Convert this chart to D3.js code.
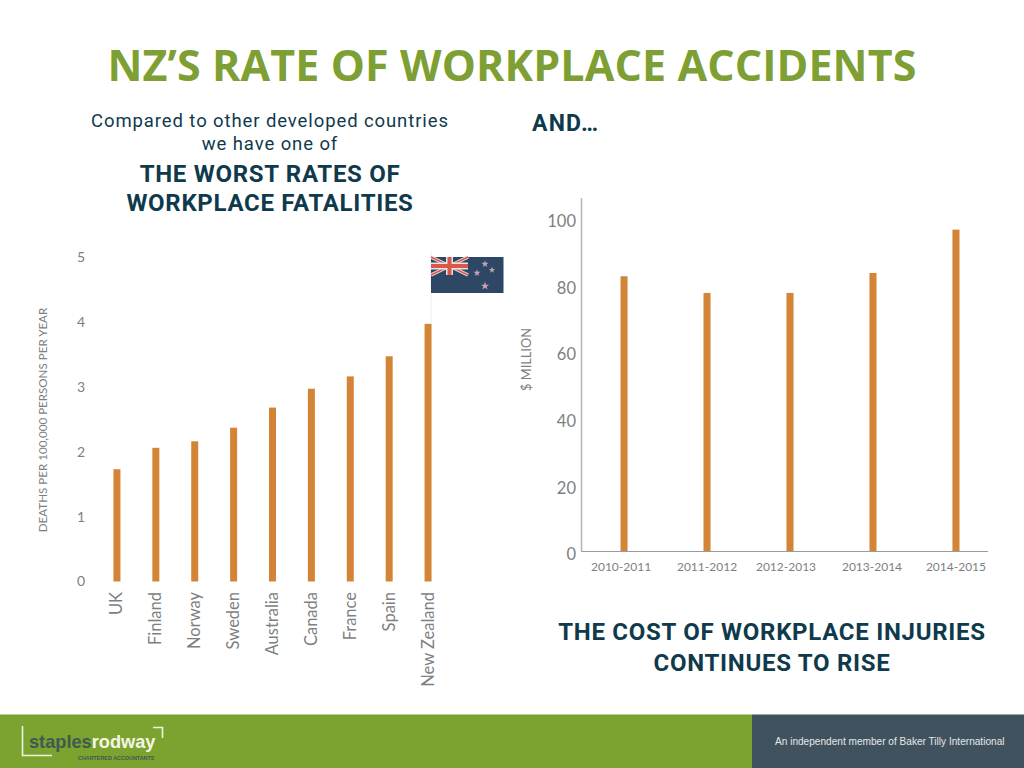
<!DOCTYPE html>
<html><head><meta charset="utf-8">
<script src="https://cdnjs.cloudflare.com/ajax/libs/d3/7.8.5/d3.min.js"></script>
<style>html,body{margin:0;padding:0;background:#fff}svg{display:block}</style>
</head><body><svg id="c" width="1024" height="768"></svg>
<script>
const countries = ["UK","Finland","Norway","Sweden","Australia","Canada","France","Spain","New Zealand"];
const deathRates = [1.73,2.06,2.16,2.37,2.68,2.97,3.16,3.47,3.97];
const deathTicks = [0,1,2,3,4,5];
const years = ["2010-2011","2011-2012","2012-2013","2013-2014","2014-2015"];
const costs = [82.5,77.5,77.5,83.5,96.5];
const costTicks = [0,20,40,60,80,100];

const ORANGE="#d48437", GREY="#7d7f81", NAVY="#0f3a4c", GREEN="#7d9f33";
const svg=d3.select("#c");
const text=(x,y,s,size,fill,weight,font,anchor)=>svg.append("text").attr("x",x).attr("y",y).text(s)
  .attr("font-size",size).attr("fill",fill).attr("font-weight",weight||400)
  .attr("font-family",font||"'Open Sans'").attr("text-anchor",anchor||"middle");
const block=(x,lines,size,weight,spacing)=>{
  const t=svg.append("text").attr("font-size",size).attr("fill",NAVY).attr("font-weight",weight)
    .attr("font-family","Roboto").attr("text-anchor","middle").attr("letter-spacing",spacing);
  lines.forEach(([y,s])=>t.append("tspan").attr("x",x).attr("y",y).text(s));
};

text(512,81,"NZ’S RATE OF WORKPLACE ACCIDENTS",43,GREEN,700).attr("letter-spacing",0.1);
block(270,[[127,"Compared to other developed countries"],[150,"we have one of"]],18.5,400,0.9);
block(270,[[182,"THE WORST RATES OF"],[211,"WORKPLACE FATALITIES"]],24,700,0.7);
text(532,131,"AND…",23,NAVY,700,"Roboto","start").attr("letter-spacing",1.2);
block(772,[[640,"THE COST OF WORKPLACE INJURIES"],[671,"CONTINUES TO RISE"]],24,700,0.72);

// left chart
const x1=d3.scaleBand().domain(countries).range([97.5,447.5]).paddingInner(0.82).paddingOuter(0.41);
const y1=d3.scaleLinear().domain([0,5]).range([581.5,257]);
const g1=svg.append("g");
g1.selectAll("rect").data(deathRates).join("rect")
  .attr("x",(d,i)=>x1(countries[i])).attr("width",x1.bandwidth())
  .attr("y",d=>y1(d)).attr("height",d=>y1(0)-y1(d)).attr("fill",ORANGE);
const a1=g1.append("g").attr("transform","translate(85,0)")
  .call(d3.axisLeft(y1).tickValues(deathTicks).tickFormat(d3.format("d")).tickSize(0).tickPadding(0));
a1.select(".domain").remove();
a1.selectAll("text").attr("font-family","Lato").attr("font-size",14).attr("fill",GREY);
const b1=g1.append("g").attr("transform","translate(0,592)")
  .call(d3.axisBottom(x1).tickSize(0).tickPadding(0));
b1.select(".domain").remove();
b1.selectAll("text").attr("font-family","Lato").attr("font-size",16.5).attr("fill",GREY)
  .attr("text-anchor","end").attr("dy",0)
  .attr("transform","translate(5.5,0) rotate(-90)");
text(0,0,"DEATHS PER 100,000 PERSONS PER YEAR",11.6,GREY,400,"Lato")
  .attr("transform","translate(47,420) rotate(-90)");

// flag
const fx=431,fy=257,fw=72.5,fh=36;
svg.append("line").attr("x1",fx).attr("x2",fx).attr("y1",251).attr("y2",324).attr("stroke","#eceff0").attr("stroke-width",1);
svg.append("rect").attr("x",fx).attr("y",fy).attr("width",fw).attr("height",fh).attr("fill","#2e4765");
const uw=37,uh=18;
[["#e8e4e4",5],["#d9584a",2]].forEach(([c,w])=>{
  svg.append("line").attr("x1",fx).attr("y1",fy).attr("x2",fx+uw).attr("y2",fy+uh).attr("stroke",c).attr("stroke-width",w*0.7);
  svg.append("line").attr("x1",fx).attr("y1",fy+uh).attr("x2",fx+uw).attr("y2",fy).attr("stroke",c).attr("stroke-width",w*0.7);
});
svg.append("rect").attr("x",fx+uw/2-3.5).attr("y",fy).attr("width",7).attr("height",uh).attr("fill","#e8e4e4");
svg.append("rect").attr("x",fx).attr("y",fy+uh/2-3.5).attr("width",uw).attr("height",7).attr("fill","#e8e4e4");
svg.append("rect").attr("x",fx+uw/2-2).attr("y",fy).attr("width",4).attr("height",uh).attr("fill","#d9584a");
svg.append("rect").attr("x",fx).attr("y",fy+uh/2-2).attr("width",uw).attr("height",4).attr("fill","#d9584a");
const star=d3.symbol().type(d3.symbolStar);
[[485,264,16],[492,270,13],[477,273,15],[485,286,22]].forEach(([x,y,s])=>
  svg.append("path").attr("d",star.size(s)()).attr("transform",`translate(${x},${y})`).attr("fill","#c9a3b4"));

// right chart
const x2=d3.scaleBand().domain(years).range([582.5,997.5]).paddingInner(0.915).paddingOuter(0.458);
const y2=d3.scaleLinear().domain([0,100]).range([551,218]);
const g2=svg.append("g");
g2.selectAll("rect").data(costs).join("rect")
  .attr("x",(d,i)=>x2(years[i])).attr("width",x2.bandwidth())
  .attr("y",d=>y2(d)).attr("height",d=>y2(0)-y2(d)).attr("fill",ORANGE);
svg.append("line").attr("x1",581.5).attr("x2",581.5).attr("y1",198).attr("y2",551).attr("stroke","#b4b5b6").attr("stroke-width",1.5);
svg.append("line").attr("x1",581).attr("x2",988).attr("y1",551.5).attr("y2",551.5).attr("stroke","#9a9b9c").attr("stroke-width",1);
const a2=g2.append("g").attr("transform","translate(576,3.5)")
  .call(d3.axisLeft(y2).tickValues(costTicks).tickSize(0).tickPadding(0));
a2.select(".domain").remove();
a2.selectAll("text").attr("font-family","Lato").attr("font-size",16.5).attr("fill",GREY);
const b2=g2.append("g").attr("transform","translate(0,562)")
  .call(d3.axisBottom(x2).tickSize(0).tickPadding(0));
b2.select(".domain").remove();
const labelShift=[-3,0,-4,-1,0];
b2.selectAll("text").attr("font-family","Lato").attr("font-size",12).attr("fill",GREY)
  .attr("dx",(d,i)=>labelShift[i]);
text(0,0,"$ MILLION",12.8,GREY,400,"Lato").attr("transform","translate(531,359.5) rotate(-90)");

// footer
svg.append("rect").attr("x",0).attr("y",714.5).attr("width",752).attr("height",53.5).attr("fill","#7ca32f");
svg.append("rect").attr("x",752).attr("y",714.5).attr("width",272).attr("height",53.5).attr("fill","#40525e");
svg.append("path").attr("d","M22.5 726V755.5H52M153 727.5H162.5V738").attr("fill","none").attr("stroke","#eef3df").attr("stroke-width",1.6);
const logo=svg.append("text").attr("x",29).attr("y",748).attr("font-family","'Liberation Sans'").attr("font-weight",700).attr("font-size",18.2);
logo.append("tspan").attr("fill","#3f5a50").text("staples");
logo.append("tspan").attr("fill","#f4f6e4").text("rodway");
text(78,759.5,"CHARTERED ACCOUNTANTS",5.4,"#3f5a50",700,"'Liberation Sans'","start");
text(775,745,"An independent member of Baker Tilly International",10.1,"#e4e8ea",400,"'Liberation Sans'","start");
</script></body></html>
